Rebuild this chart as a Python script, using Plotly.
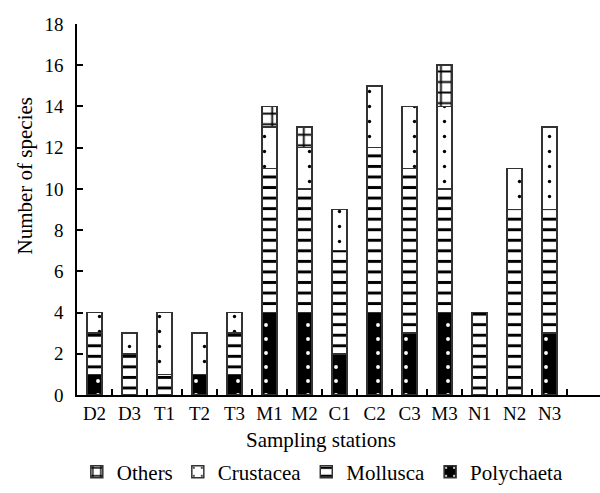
import plotly.graph_objects as go

stations = ["D2", "D3", "T1", "T2", "T3", "M1", "M2", "C1", "C2", "C3", "M3", "N1", "N2", "N3"]
polychaeta = [1, 0, 0, 1, 1, 4, 4, 2, 4, 3, 4, 0, 0, 3]
mollusca   = [2, 2, 1, 0, 2, 7, 6, 5, 8, 8, 6, 4, 9, 6]
crustacea  = [1, 1, 3, 2, 1, 2, 2, 2, 3, 3, 4, 0, 2, 4]
others     = [0, 0, 0, 0, 0, 1, 1, 0, 0, 0, 2, 0, 0, 0]
y_ticks = [0, 2, 4, 6, 8, 10, 12, 14, 16, 18]

FONT = "Liberation Serif"
outline = dict(color="#333333", width=1.5)

fig = go.Figure()
fig.add_trace(go.Bar(
    name="Polychaeta", x=stations, y=polychaeta,
    marker=dict(color="black", line=outline,
                pattern=dict(shape=".", fgcolor="white", bgcolor="black",
                             size=14, solidity=0.06, fillmode="replace")),
))
fig.add_trace(go.Bar(
    name="Mollusca", x=stations, y=mollusca,
    marker=dict(color="white", line=outline,
                pattern=dict(shape="-", fgcolor="black", bgcolor="white",
                             size=10.55, solidity=0.28, fillmode="replace")),
))
fig.add_trace(go.Bar(
    name="Crustacea", x=stations, y=crustacea,
    marker=dict(color="white", line=outline,
                pattern=dict(shape=".", fgcolor="black", bgcolor="white",
                             size=15, solidity=0.04, fillmode="replace")),
))
fig.add_trace(go.Bar(
    name="Others", x=stations, y=others,
    marker=dict(color="white", line=outline,
                pattern=dict(shape="+", fgcolor="black", bgcolor="white",
                             size=10.55, solidity=0.3, fillmode="replace")),
))

fig.update_layout(
    barmode="stack",
    bargap=0.57,
    width=600, height=493,
    margin=dict(l=77, r=0, t=24, b=89),
    paper_bgcolor="white", plot_bgcolor="white",
    font=dict(family=FONT, size=19, color="black"),
    showlegend=True,
    legend=dict(orientation="h", traceorder="reversed",
                x=0.47, xanchor="center", y=-0.208, yanchor="middle",
                font=dict(family=FONT, size=21, color="black"),
                itemclick=False),
    xaxis=dict(type="category", range=[-0.5, 14.44],
               showline=True, linecolor="black", linewidth=1.5,
               ticks="inside", tickson="boundaries", ticklen=6,
               tickwidth=1.5, tickcolor="black", showgrid=False,
               tickangle=0,
               tickfont=dict(family=FONT, size=19, color="black")),
    yaxis=dict(range=[0, 18], tickvals=y_ticks,
               showline=True, linecolor="black", linewidth=1.5,
               ticks="inside", ticklen=6, tickwidth=1.5, tickcolor="black",
               showgrid=False, zeroline=False, ticklabelstandoff=8,
               tickfont=dict(family=FONT, size=19, color="black")),
    annotations=[
        dict(text="Number of species", textangle=-90, showarrow=False,
             xref="paper", yref="paper", x=-0.0994, y=0.589,
             xanchor="center", yanchor="middle",
             font=dict(family=FONT, size=21, color="black")),
        dict(text="Sampling stations", showarrow=False,
             xref="paper", yref="paper", x=0.4665, y=-0.121,
             xanchor="center", yanchor="middle",
             font=dict(family=FONT, size=21, color="black")),
    ],
)

fig.write_html("out.html")
